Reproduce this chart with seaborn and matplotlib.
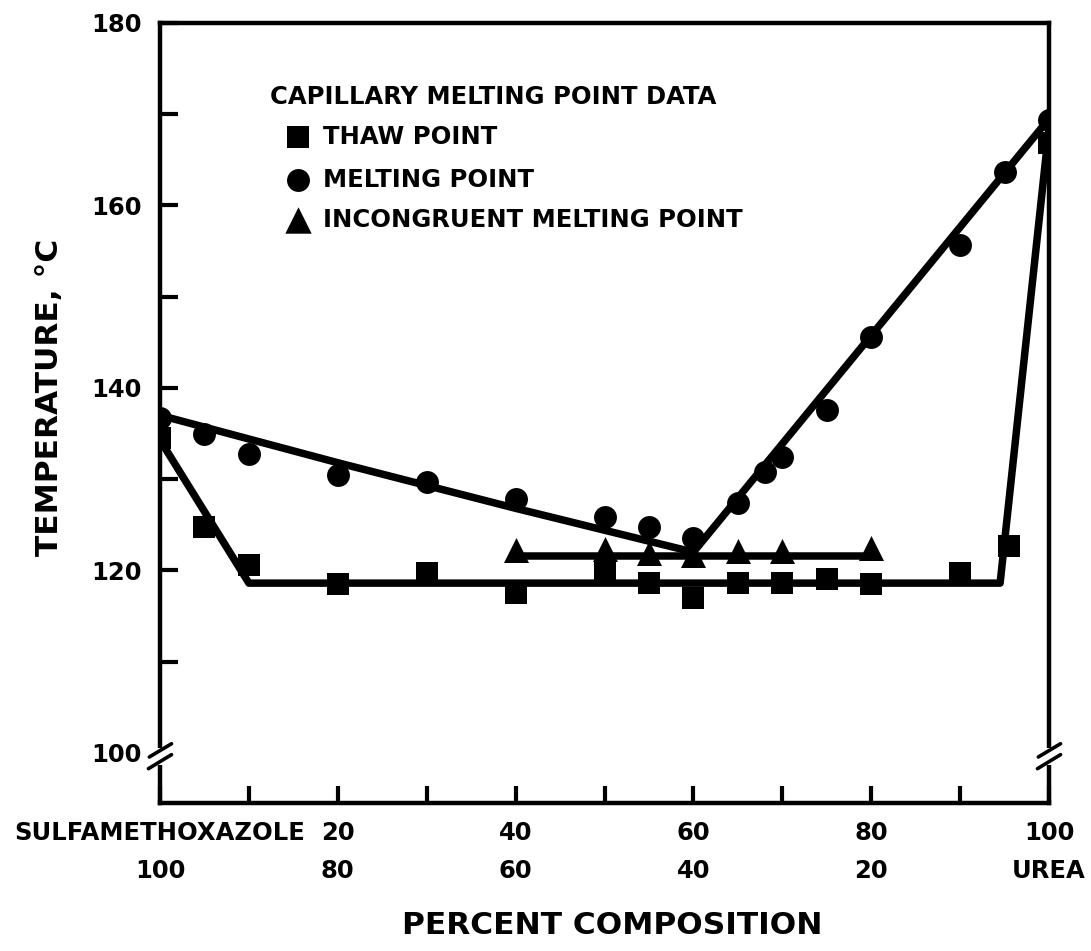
import matplotlib
matplotlib.use('Agg')
from matplotlib import pyplot as plt
from matplotlib.ticker import MultipleLocator, FixedLocator
import seaborn as sns

# x = percent urea, y = temperature (deg C)
melt_x = [0, 5, 10, 20, 30, 40, 50, 55, 60, 65, 68, 70, 75, 80, 90, 95, 100]
melt_y = [136.7, 134.9, 132.8, 130.5, 129.7, 127.8, 125.8, 124.7, 123.6, 127.4,
          130.8, 132.4, 137.6, 145.6, 155.7, 163.7, 169.4]
thaw_x = [0, 5, 10, 20, 30, 40, 50, 55, 60, 65, 70, 75, 80, 90, 95.5, 100]
thaw_y = [134.5, 124.7, 120.6, 118.5, 119.7, 117.5, 119.8, 118.6, 117.0, 118.6,
          118.6, 119.0, 118.5, 119.7, 122.7, 166.9]
incong_x = [40, 50, 55, 60, 65, 70, 80]
incong_y = [122.2, 122.3, 121.9, 121.7, 122.1, 122.1, 122.4]

# hand drawn phase boundaries
melt_left_x = [0, 20, 40, 60]
melt_left_y = [137.0, 131.8, 126.8, 122.0]
melt_right_x = [60, 100]
melt_right_y = [122.0, 169.5]
thaw_line_x = [0, 10, 94.5, 100]
thaw_line_y = [134.3, 118.6, 118.6, 168.5]
incong_line_x = [40, 80]
incong_line_y = [121.6, 121.6]

x_major = [0, 20, 40, 60, 80, 100]
x_labels = ['SULFAMETHOXAZOLE\n100', '20\n80', '40\n60', '60\n40', '80\n20', '100\nUREA']
y_major = [100, 120, 140, 160, 180]

legend_title = 'CAPILLARY MELTING POINT DATA'
legend_labels = ['THAW POINT', 'MELTING POINT', 'INCONGRUENT MELTING POINT']

sns.set_theme(style='ticks')
plt.rcParams['font.family'] = ['DejaVu Sans']
plt.rcParams['font.weight'] = 'bold'
plt.rcParams['text.color'] = 'black'
plt.rcParams['axes.labelcolor'] = 'black'

fig = plt.figure(figsize=(10.91, 9.51), dpi=100)
ax = fig.add_axes([160 / 1091, 148 / 951, 889 / 1091, 780 / 951])

lw = 5.4
for lx, ly in [(melt_left_x, melt_left_y), (melt_right_x, melt_right_y),
               (thaw_line_x, thaw_line_y), (incong_line_x, incong_line_y)]:
    sns.lineplot(x=lx, y=ly, sort=False, estimator=None, color='black', lw=lw,
                 ax=ax, zorder=3)

sns.scatterplot(x=incong_x, y=incong_y, marker='^', s=18 ** 2, color='black',
                linewidth=0, ax=ax, zorder=4)
sns.scatterplot(x=thaw_x, y=thaw_y, marker='s', s=16 ** 2, color='black',
                linewidth=0, ax=ax, zorder=4)
sns.scatterplot(x=melt_x, y=melt_y, marker='o', s=16.5 ** 2, color='black',
                linewidth=0, ax=ax, zorder=5)

ax.set_xlim(0, 100)
ax.set_ylim(94.5, 180)

ax.xaxis.set_major_locator(FixedLocator(x_major))
ax.xaxis.set_minor_locator(MultipleLocator(10))
ax.set_xticklabels(x_labels)
ax.yaxis.set_major_locator(FixedLocator(y_major))
ax.yaxis.set_minor_locator(MultipleLocator(10))
ax.set_yticklabels([str(v) for v in y_major])

ax.tick_params(axis='both', which='both', direction='in', color='black',
               width=3, labelsize=17.5, labelcolor='black')
ax.tick_params(axis='x', which='both', length=12, pad=13)
ax.tick_params(axis='y', which='both', length=13, pad=13)
for lab in ax.get_xticklabels():
    lab.set_linespacing(1.75)
    lab.set_fontweight('bold')
for lab in ax.get_yticklabels():
    lab.set_fontweight('bold')
ax.yaxis.get_major_ticks()[0].tick1line.set_visible(False)

for sp in ax.spines.values():
    sp.set_linewidth(3.2)
    sp.set_color('black')
ax.set_xlabel('')
ax.set_ylabel('')

# axis break marks at 100
for x0 in (0, 1):
    ax.plot([x0, x0], [0.049, 0.07], transform=ax.transAxes, color='white',
            lw=7, clip_on=False, zorder=6, solid_capstyle='butt')
    ax.plot([x0 - 0.012, x0 + 0.013], [0.059, 0.076], transform=ax.transAxes,
            color='black', lw=2.6, clip_on=False, zorder=7)
    ax.plot([x0 - 0.013, x0 + 0.013], [0.044, 0.062], transform=ax.transAxes,
            color='black', lw=2.6, clip_on=False, zorder=7)

# legend drawn by hand
ax.text(0.1237, 0.905, legend_title, transform=ax.transAxes, fontsize=17.5,
        fontweight='bold', ha='left', va='center', color='black')
leg_rows = [0.854, 0.799, 0.747]
leg_markers = ['s', 'o', '^']
leg_sizes = [16 ** 2, 16.5 ** 2, 19 ** 2]
for yy, m, sz, lab in zip(leg_rows, leg_markers, leg_sizes, legend_labels):
    ax.scatter([0.1552], [yy], marker=m, s=sz, color='black', linewidths=0,
               transform=ax.transAxes, clip_on=False, zorder=5)
    ax.text(0.1834, yy, lab, transform=ax.transAxes, fontsize=17.5,
            fontweight='bold', ha='left', va='center', color='black')

fig.text(50 / 1091, 1 - 397 / 951, 'TEMPERATURE, °C', rotation=90,
         fontsize=22.5, fontweight='bold', ha='center', va='center',
         color='black')
fig.text(612 / 1091, 1 - 925 / 951, 'PERCENT COMPOSITION', fontsize=22.5,
         fontweight='bold', ha='center', va='center', color='black')

fig.savefig('out.png', dpi=100, facecolor='white')
